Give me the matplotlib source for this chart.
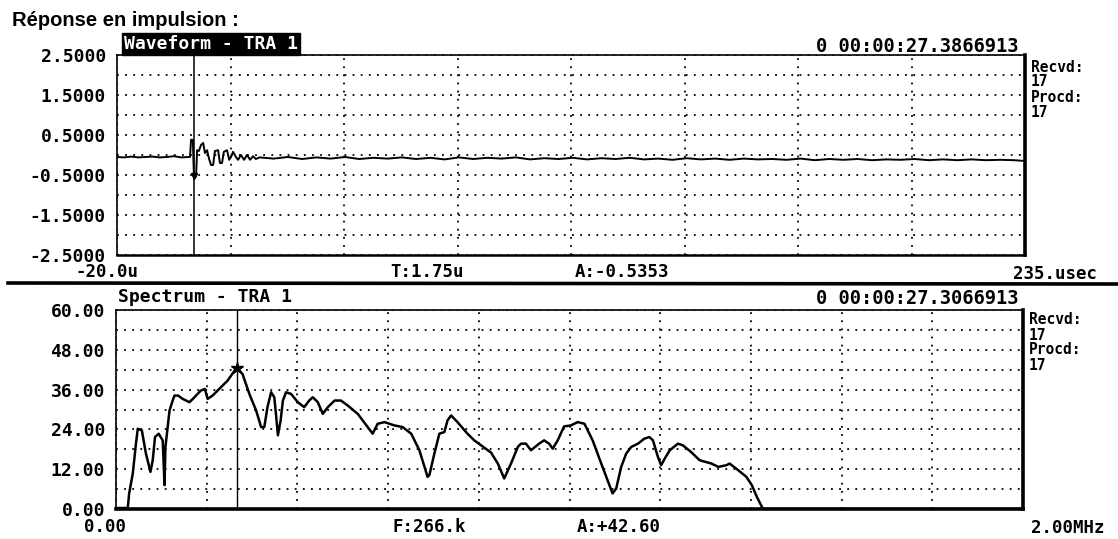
import numpy as np
import matplotlib.pyplot as plt

# waveform (time in usec, amplitude)
wave_t = [-20, -18, -16, -14, -12, -10, -8, -6, -4, -2, 0, 0.5, 0.8, 1.3, 1.6, 1.75, 2.2, 2.5, 3.0, 3.6,
          4.2, 4.7, 5.3, 5.8, 6.4, 7.0, 7.5, 8.4, 8.9, 9.5, 10.0, 10.9, 11.5, 12.0, 12.6, 13.4, 14.0,
          14.8, 15.7, 16.5, 17.4, 18.2, 19.0,
          20, 24, 28, 32, 36, 40, 44, 48, 52, 56, 60, 64, 68, 72, 76, 80, 84, 88, 92, 96, 100, 104,
          108, 112, 116, 120, 124, 128, 132, 136, 140, 144, 148, 152, 156, 160, 164, 168, 172, 176,
          180, 184, 188, 192, 196, 200, 204, 208, 212, 216, 220, 224, 228, 232, 235]
wave_a = [-0.05, -0.06, -0.04, -0.06, -0.05, -0.04, -0.06, -0.05, -0.03, -0.06, -0.05, -0.05, 0.38, 0.38,
          -0.53, -0.5353, -0.54, 0.12, 0.10, 0.25, 0.30, 0.05, 0.12, -0.08, -0.25, -0.25, 0.10, 0.12,
          -0.20, -0.20, 0.08, 0.12, -0.12, -0.05, 0.08, -0.05, -0.12, 0.0, -0.12, 0.0, -0.12, -0.03, -0.10,
          -0.06, -0.09, -0.05, -0.10, -0.06, -0.09, -0.05, -0.10, -0.07, -0.09, -0.06, -0.10, -0.07,
          -0.11, -0.06, -0.10, -0.07, -0.09, -0.06, -0.11, -0.08, -0.10, -0.07, -0.11, -0.08, -0.10,
          -0.07, -0.11, -0.09, -0.12, -0.08, -0.11, -0.09, -0.12, -0.09, -0.11, -0.10, -0.12, -0.09,
          -0.13, -0.10, -0.12, -0.10, -0.13, -0.11, -0.12, -0.10, -0.13, -0.11, -0.13, -0.11, -0.13,
          -0.12, -0.13, -0.15]

# spectrum (frequency in kHz, amplitude)
spec_f = [0, 26, 29, 37, 44, 48, 57, 66, 76, 81, 86, 94, 103, 107, 109, 118, 125, 129, 137, 147, 162,
          173, 187, 196, 202, 213, 224, 246, 266, 279, 294, 309, 320, 327, 334, 342, 349, 353, 357, 363,
          368, 375, 386, 401, 415, 426, 434, 445, 456, 467, 482, 496, 511, 533, 555, 566, 577, 592, 614,
          632, 651, 669, 687, 691, 702, 713, 724, 731, 739, 753, 775, 790, 805, 827, 842, 856, 871, 886,
          893, 904, 915, 933, 944, 955, 963, 974, 988, 1003, 1018, 1033, 1051, 1070, 1088, 1095, 1103,
          1114, 1125, 1136, 1151, 1165, 1176, 1184, 1195, 1202, 1210, 1221, 1239, 1250, 1268, 1287,
          1313, 1328, 1346, 1353, 1372, 1390, 1402, 1413, 1424, 1427, 2000]
spec_a = [0.3, 0.3, 4.7, 10.7, 19.7, 24.2, 23.7, 16.7, 11.2, 14.7, 21.7, 22.7, 20.7, 7.2, 18.7, 29.7,
          32.7, 34.2, 34.2, 33.2, 32.2, 33.7, 35.7, 36.2, 33.2, 34.2, 35.7, 38.7, 42.6, 40.7, 34.7, 29.7,
          24.7, 24.7, 30.7, 35.2, 33.7, 28.2, 22.2, 26.7, 32.7, 35.2, 34.7, 32.2, 30.7, 32.7, 33.7, 32.2,
          28.7, 30.7, 32.7, 32.7, 31.2, 28.7, 24.7, 22.7, 25.7, 26.2, 25.2, 24.7, 22.7, 17.7, 9.7, 10.2,
          16.7, 22.7, 23.2, 26.7, 28.2, 26.2, 22.7, 20.7, 19.2, 17.0, 13.7, 9.2, 13.7, 18.7, 19.7, 19.7,
          17.7, 19.7, 20.7, 19.7, 18.2, 20.7, 24.9, 25.2, 26.2, 25.7, 20.7, 13.7, 7.2, 4.7, 6.2, 12.7,
          16.7, 18.7, 19.7, 21.2, 21.7, 20.7, 15.7, 13.2, 15.2, 17.7, 19.7, 19.2, 17.2, 14.7, 13.7,
          12.7, 13.2, 13.7, 11.7, 9.7, 7.2, 3.7, 0.7, 0.0, 0.0]

wave_yticks = [2.5, 1.5, 0.5, -0.5, -1.5, -2.5]
wave_ylabels = ["2.5000", "1.5000", "0.5000", "-0.5000", "-1.5000", "-2.5000"]
spec_yticks = [60, 48, 36, 24, 12, 0]
spec_ylabels = ["60.00", "48.00", "36.00", "24.00", "12.00", "0.00"]

wave_cursor = (1.75, -0.5353)
spec_cursor = (266, 42.60)

W, H = 1118, 539
mono = "DejaVu Sans Mono"
fig = plt.figure(figsize=(W / 100, H / 100), dpi=100)


def px(x, y):
    return x / W, 1 - y / H


def ptext(x, y, s, ha="left", size=12.5, **kw):
    fx, fy = px(x, y)
    fig.text(fx, fy, s, ha=ha, va="center", fontsize=size, family=mono,
             fontweight="bold", **kw)


def style(ax, xgrid, ygrid, yticks, ylabels):
    ax.set_xticks(xgrid)
    ax.set_xticklabels([])
    ax.set_yticks(ygrid, minor=True)
    ax.set_yticks(yticks)
    ax.set_yticklabels(ylabels, family=mono, fontweight="bold", fontsize=13)
    ax.tick_params(which="both", length=0, pad=8)
    ax.grid(which="both", color="black", linestyle=(0, (1, 3.5)), linewidth=1.3)
    for s in ["left", "top"]:
        ax.spines[s].set_linewidth(1.2)
    ax.spines["bottom"].set_linewidth(1.8)
    ax.spines["right"].set_linewidth(2.6)


# top: waveform
l, t, r, b = 117, 55, 1025, 255
ax1 = fig.add_axes([l / W, 1 - b / H, (r - l) / W, (b - t) / H])
ax1.plot(wave_t, wave_a, color="black", lw=1.4)
ax1.axvline(wave_cursor[0], color="black", lw=1.1)
ax1.plot(*wave_cursor, marker="v", color="black", ms=5)
ax1.set_xlim(-20, 235)
ax1.set_ylim(-2.5, 2.5)
style(ax1, np.linspace(-20, 235, 9), np.arange(-2.5, 2.51, 0.5), wave_yticks, wave_ylabels)

# bottom: spectrum
l, t, r, b = 116, 310, 1023, 509
ax2 = fig.add_axes([l / W, 1 - b / H, (r - l) / W, (b - t) / H])
ax2.plot(spec_f, spec_a, color="black", lw=1.8)
ax2.axvline(spec_cursor[0], color="black", lw=1.0)
ax2.plot(*spec_cursor, marker="*", color="black", ms=9)
ax2.set_xlim(0, 2000)
ax2.set_ylim(0, 60)
style(ax2, np.linspace(0, 2000, 11), np.arange(0, 61, 6), spec_yticks, spec_ylabels)
ax2.spines["bottom"].set_linewidth(2.6)

# header texts
fx, fy = px(12, 20)
fig.text(fx, fy, "Réponse en impulsion :", ha="left", va="center", fontsize=14.5,
         family="Liberation Sans", fontweight="bold")
ptext(124, 44, "Waveform - TRA 1", size=13, color="white",
      bbox=dict(facecolor="black", edgecolor="black", boxstyle="square,pad=0.1"))
ptext(1018, 46, "0 00:00:27.3866913", ha="right", size=13.5)
for i, s in enumerate(["Recvd:", "17", "Procd:", "17"]):
    ptext(1031, 67 + 15 * i, s, size=10.5)

ptext(76, 272, "-20.0u")
ptext(390, 272, "T:1.75u")
ptext(575, 272, "A:-0.5353")
ptext(1097, 274, "235.usec", ha="right")

fig.add_artist(plt.Line2D([8 / W, 1], [1 - 283 / H, 1 - 284 / H], color="black", lw=2.6))

ptext(118, 297, "Spectrum - TRA 1", size=13)
ptext(1018, 298, "0 00:00:27.3066913", ha="right", size=13.5)
for i, s in enumerate(["Recvd:", "17", "Procd:", "17"]):
    ptext(1029, 320 + 15 * i, s, size=10.5)

ptext(84, 527, "0.00")
ptext(392, 527, "F:266.k")
ptext(577, 527, "A:+42.60")
ptext(1105, 528, "2.00MHz", ha="right")

fig.savefig("out.png", dpi=100)
